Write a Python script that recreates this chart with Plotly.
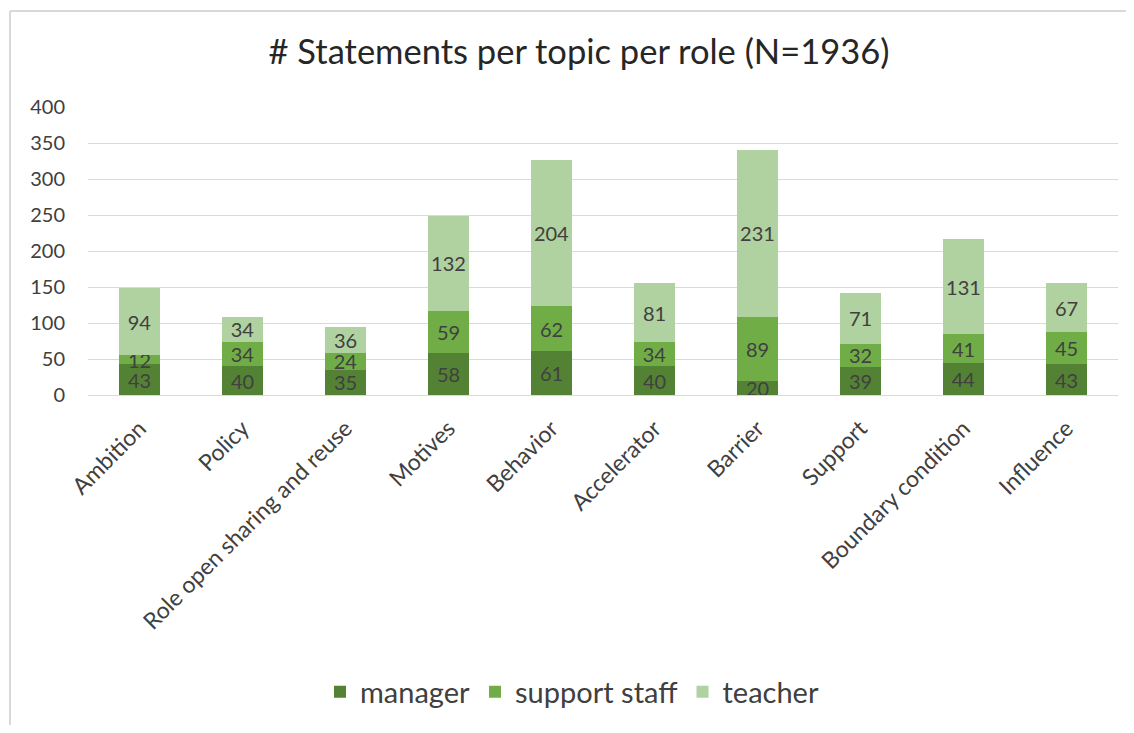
import plotly.graph_objects as go

categories = ["Ambition", "Policy", "Role open sharing and reuse", "Motives", "Behavior",
              "Accelerator", "Barrier", "Support", "Boundary condition", "Influence"]
manager = [43, 40, 35, 58, 61, 40, 20, 39, 44, 43]
support_staff = [12, 34, 24, 59, 62, 34, 89, 32, 41, 45]
teacher = [94, 34, 36, 132, 204, 81, 231, 71, 131, 67]
y_ticks = [0, 50, 100, 150, 200, 250, 300, 350, 400]

FONT = "Lato, 'Open Sans', sans-serif"
series = [("manager", manager, "#548235"),
          ("support staff", support_staff, "#70AD47"),
          ("teacher", teacher, "#B0D1A0")]

fig = go.Figure()
for name, vals, col in series:
    fig.add_trace(go.Bar(
        x=categories, y=vals, name=name,
        marker=dict(color=col, line=dict(width=0)),
        text=[str(v) for v in vals], textposition="inside",
        insidetextanchor="middle", textangle=0,
        textfont=dict(family=FONT, size=20, color="#404040"),
        cliponaxis=False, constraintext="none",
    ))

OFF = 8  # page body margin
W, H = 1134 - 2 * OFF, 733 - 2 * OFF
L = 88 - OFF
T = 107 - OFF
R = W - (1118 - OFF)
B = H - (398 - OFF)
pw = W - L - R
ph = H - T - B

def px(xp):
    return (xp - OFF - L) / pw

def py(yp):
    return (T + ph - (yp - OFF)) / ph

fig.update_layout(
    barmode="stack", bargap=0.61,
    width=W, height=H,
    margin=dict(l=L, r=R, t=T, b=B, pad=0),
    paper_bgcolor="white", plot_bgcolor="white",
    font=dict(family=FONT, color="#404040"),
    uniformtext=dict(minsize=20, mode="show"),
    title=dict(text="# Statements per topic per role (N=1936)", x=(579 - OFF) / W, xanchor="center",
               y=1 - (52 - OFF) / H, yanchor="middle", yref="container",
               font=dict(family=FONT, size=34.5, color="#262626")),
    xaxis=dict(tickangle=-45, tickfont=dict(family=FONT, size=23, color="#404040"),
               showline=True, linecolor="#d9d9d9", linewidth=1, ticks="", showgrid=False,
               ticklabelstandoff=10),
    yaxis=dict(range=[0, 400], tickvals=y_ticks, tickfont=dict(family=FONT, size=20, color="#404040"),
               showgrid=True, gridcolor="#d9d9d9", gridwidth=1, zeroline=False, ticks="",
               ticklabelstandoff=22),
    legend=dict(orientation="h", x=px(572), xanchor="center",
                y=py(698), yanchor="middle",
                font=dict(family=FONT, size=29, color="#404040"), traceorder="normal",
                itemsizing="constant"),
    shapes=[
        dict(type="line", xref="paper", yref="paper", x0=px(10), x1=px(1140),
             y0=py(10), y1=py(10), line=dict(color="#d9d9d9", width=2)),
        dict(type="line", xref="paper", yref="paper", x0=px(10), x1=px(10),
             y0=py(10), y1=py(740), line=dict(color="#d9d9d9", width=2)),
    ],
)
fig.write_html("out.html")
